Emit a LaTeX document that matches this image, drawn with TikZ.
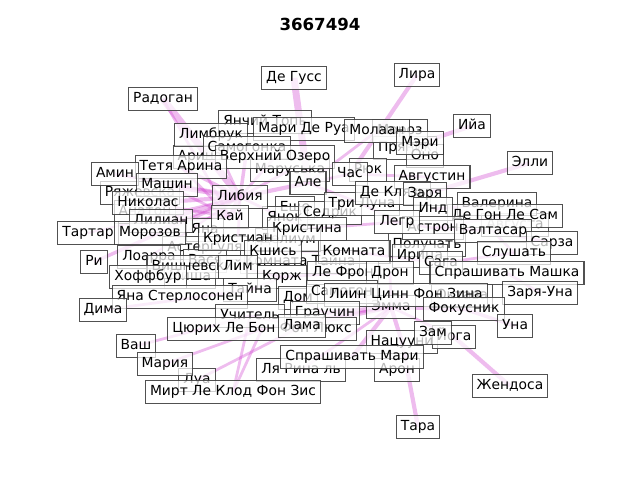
\documentclass[tikz,border=0pt]{standalone}
\usepackage{fontspec}
\setmainfont{DejaVu Sans}
\definecolor{linkpink}{HTML}{CC33CC}
\definecolor{boxedge}{HTML}{333333}
\pgfdeclarelayer{background}
\pgfsetlayers{background,main}

\begin{document}
\begin{tikzpicture}[
  x=0.01in, y=-0.01in,
  font=\fontsize{10}{12}\selectfont,
  title/.style={font=\bfseries\fontsize{12}{14}\selectfont},
  tag/.style={draw=boxedge, fill=white, fill opacity=0.72, draw opacity=0.85,
    text opacity=1, line width=0.75pt, inner xsep=3.3pt, inner ysep=3.7pt,
    text height=7.4pt, text depth=2.2pt},
  link/.style={draw=linkpink, draw opacity=0.33, line width=#1},
  link/.default=2pt
]
\useasboundingbox (0,0) rectangle (640,480);
\node[title] (title) at (320,24) {3667494};

% names hidden behind the crowd
\node[tag] (yanch) at (265,122) {Янчий Топь};
\node[tag] (arina) at (200,157) {Арина};
\node[tag] (marus) at (290,170) {Маруська};
\node[tag] (ryazh) at (140,193) {Ряжевска};
\node[tag] (anaton) at (145,212) {Анатон};
\node[tag] (yana) at (205,230) {Яна};
\node[tag] (asterg) at (205,248) {Астергуля};
\node[tag] (vasya) at (205,261) {Вася};
\node[tag] (misha) at (190,277) {Миша};
\node[tag] (tayna) at (300,262) {Комната Тайна};
\node[tag] (pedl) at (288,240) {Делиум};
\node[tag] (eshe) at (295,208) {Еще};
\node[tag] (yanok) at (285,218) {Янок};
\node[tag] (sedrik) at (330,213) {Седрик};
\node[tag] (pryan) at (405,148) {Пряник};
\node[tag] (ono) at (425,156) {Оно};
\node[tag] (poluch) at (427,245) {Получать};
\node[tag] (irica) at (420,256) {Ирица};
\node[tag] (oktava) at (462,296) {Октава};
\node[tag] (avgusta) at (515,225) {Августа};
\node[tag] (ryuk) at (368,170) {Рюк};
\node[tag] (emma) at (391,307) {Эмма};
\node[tag] (aron) at (397,370) {Арон};
\node[tag] (lua) at (197,380) {Луа};

% the crowd itself
\node[tag] (gus) at (294,78) {Де Гусс};
\node[tag] (lira) at (417,75) {Лира};
\node[tag] (rado) at (163,99) {Радоган};
\node[tag] (iya) at (472,126) {Ийа};
\node[tag] (elli) at (530,163) {Элли};
\node[tag] (limbruk) at (211,135) {Лимбрук};
\node[tag] (mari) at (304,129) {Мари Де Руа};
\node[tag] (moroz) at (400,131) {Мороз};
\node[tag] (molaan) at (377,131) {Молаан};
\node[tag] (mery) at (420,143) {Мэри};
\node[tag] (samog) at (247,148) {Самогонка};
\node[tag] (verh) at (275,157) {Верхний Озеро};
\node[tag] (tetya) at (181,167) {Тетя Арина};
\node[tag] (amin) at (115,174) {Амин};
\node[tag] (mashin) at (167,185) {Машин};
\node[tag] (chas) at (350,174) {Час};
\node[tag] (avgustin) at (432,177) {Августин};
\node[tag] (ale) at (308,183) {Але};
\node[tag] (libiya) at (240,197) {Либия};
\node[tag] (nikolas) at (148,203) {Николас};
\node[tag] (triluna) at (362,204) {Три Луна};
\node[tag] (dekl) at (393,193) {Де Клязь};
\node[tag] (valer) at (497,204) {Валерина};
\node[tag] (zarya) at (425,194) {Заря};
\node[tag] (degon) at (505,216) {Де Гон Ле Сам};
\node[tag] (ind) at (433,209) {Инд};
\node[tag] (kai) at (230,217) {Кай};
\node[tag] (lilian) at (161,221) {Лилиан};
\node[tag] (kristina) at (307,229) {Кристина};
\node[tag] (astron) at (433,228) {Астрон};
\node[tag] (legr) at (397,222) {Легр};
\node[tag] (valtasar) at (493,231) {Валтасар};
\node[tag] (tartar) at (88,233) {Тартар};
\node[tag] (morozov) at (150,233) {Морозов};
\node[tag] (kristian) at (238,239) {Кристиан};
\node[tag] (sarza) at (552,243) {Сарза};
\node[tag] (slush) at (514,253) {Слушать};
\node[tag] (kshis) at (273,252) {Кшись};
\node[tag] (komnata) at (354,252) {Комната};
\node[tag] (loarra) at (149,257) {Лоарра};
\node[tag] (ri) at (94,262) {Ри};
\node[tag] (saga) at (441,263) {Сага};
\node[tag] (vishn) at (197,267) {Вишневский};
\node[tag] (lim) at (238,267) {Лим};
\node[tag] (hoff) at (148,277) {Хоффбур};
\node[tag] (korzh) at (282,277) {Корж};
\node[tag] (lefron) at (343,273) {Ле Фрон};
\node[tag] (spmashka) at (507,273) {Спрашивать Машка};
\node[tag] (dron) at (390,273) {Дрон};
\node[tag] (tayna2) at (250,290) {Тайна};
\node[tag] (yanast) at (180,297) {Яна Стерлосонен};
\node[tag] (dom) at (298,298) {Дом};
\node[tag] (samogon) at (342,292) {Самогон};
\node[tag] (liin) at (406,295) {Лиин Цинн Фон Зина};
\node[tag] (zaryauna) at (540,293) {Заря-Уна};
\node[tag] (fokus) at (464,309) {Фокусник};
\node[tag] (dima) at (103,310) {Дима};
\node[tag] (uchitel) at (250,316) {Учитель};
\node[tag] (grauchin) at (325,313) {Граучин};
\node[tag] (una) at (515,326) {Уна};
\node[tag] (tsyurih) at (262,329) {Цюрих Ле Бон Фон Люкс};
\node[tag] (lama) at (302,326) {Лама};
\node[tag] (natsu) at (402,342) {Нацууни};
\node[tag] (yoga) at (454,337) {Йога};
\node[tag] (zam) at (433,333) {Зам};
\node[tag] (vash) at (136,346) {Ваш};
\node[tag] (lyarina) at (301,370) {Ля Рина ль};
\node[tag] (spmari) at (352,357) {Спрашивать Мари};
\node[tag] (mariya) at (165,364) {Мария};
\node[tag] (zhend) at (510,386) {Жендоса};
\node[tag] (mirt) at (233,392) {Мирт Ле Клод Фон Зис};
\node[tag] (tara) at (418,427) {Тара};

\begin{pgfonlayer}{background}
% ties around Либия
\draw[link=5pt] (rado.center) -- (libiya.center);
\draw[link=2pt] (rado.center) -- (kai.center);
\foreach \a/\w in {amin/2pt, tartar/1.5pt, ri/2.5pt, mashin/4pt, nikolas/3pt,
    lilian/3pt, tetya/2.5pt, limbruk/2pt, samog/2.5pt, kai/4pt, kristian/2pt,
    morozov/2pt, kristina/2pt, ale/3pt, verh/2pt, marus/2pt, loarra/1.5pt}
  \draw[link=\w] (\a.center) -- (libiya.center);
\foreach \a/\b in {mashin/kai, nikolas/kai, tetya/kai, lilian/kai}
  \draw[link=2pt] (\a.center) -- (\b.center);
% ties to the upper right
\draw[link=5pt] (gus.center) -- (ale.center);
\draw[link=3pt] (lira.center) -- (chas.center);
\draw[link=3pt] (iya.center) -- (mery.center);
\draw[link=3pt] (elli.center) -- (zarya.center);
\foreach \a/\b in {ale/chas, ale/molaan, ale/triluna, chas/avgustin, triluna/legr,
    kristina/legr, legr/astron, astron/valtasar, degon/astron, valer/ind,
    kshis/komnata, komnata/saga, saga/slush, slush/valtasar, sarza/valtasar}
  \draw[link=2pt] (\a.center) -- (\b.center);
% ties around Эмма
\draw[link=3pt] (tara.center) -- (natsu.center);
\draw[link=3pt] (zhend.center) -- (yoga.center);
\draw[link=2.5pt] (una.center) -- (fokus.center);
\draw[link=2pt] (zaryauna.center) -- (spmashka.center);
\foreach \a/\w in {liin/4pt, lama/3pt, spmari/3pt, tsyurih/2pt, grauchin/3pt,
    natsu/3pt, fokus/3pt, yoga/2pt, samogon/2.5pt, dron/2pt, lyarina/2pt}
  \draw[link=\w] (\a.center) -- (emma.center);
% ties to the lower left
\draw[link=2pt] (dima.center) -- (tayna2.center);
\draw[link=2pt] (vash.center) -- (uchitel.center);
\draw[link=2pt] (mariya.center) -- (tsyurih.center);
\draw[link=2pt] (lua.center) -- (lama.center);
\draw[link=2pt] (mirt.center) -- (tsyurih.center);
\draw[link=2pt] (mirt.center) -- (uchitel.center);
\foreach \a/\b in {tayna2/korzh, lim/korzh, korzh/lefron, dom/grauchin, uchitel/lama}
  \draw[link=2pt] (\a.center) -- (\b.center);
\end{pgfonlayer}
\end{tikzpicture}
\end{document}
